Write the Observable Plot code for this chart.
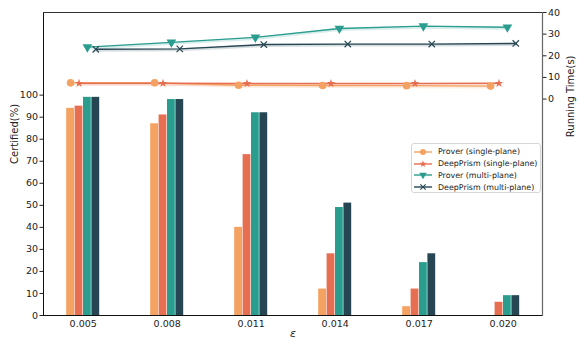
<!DOCTYPE html>
<html><head><meta charset="utf-8">
<script src="https://cdn.jsdelivr.net/npm/d3@7"></script>
<script src="https://cdn.jsdelivr.net/npm/@observablehq/plot@0.6"></script>
<style>
body{margin:0;background:#fff;font-family:"DejaVu Sans",sans-serif;}
#wrap{position:relative;width:581px;height:349px;}
#wrap svg{position:absolute;left:0;top:0;overflow:visible;}
#legend{position:absolute;left:411px;top:143px;width:130px;height:50px;border:1px solid #d6d6d6;border-radius:3px;background:rgba(255,255,255,0.8);font-size:7.9px;color:#222;box-sizing:border-box;padding:2px 0 0 1px;}
#legend .row{display:flex;align-items:center;height:11.8px;white-space:nowrap;}
#legend svg{position:static;margin-right:5px;}
</style></head>
<body><div id="wrap"><div id="p1"></div><div id="p2"></div><div id="legend"></div></div>
<script>
const epsilons = ["0.005","0.008","0.011","0.014","0.017","0.020"];
const series = ["Prover (single-plane)","DeepPrism (single-plane)","Prover (multi-plane)","DeepPrism (multi-plane)"];
const colors = ["#F4A261","#E76F51","#2A9D8F","#264653"];
const symbols = ["circle","star","triangle","times"];
const certProverSingle = [94, 87, 40, 12, 4, 0];
const certDeepPrismSingle = [95, 91, 73, 28, 12, 6];
const certProverMulti = [99, 98, 92, 49, 24, 9];
const certDeepPrismMulti = [99, 98, 92, 51, 28, 9];
const timeProverSingle = [7.5, 7.5, 6.4, 6.3, 6.2, 6.0];
const timeDeepPrismSingle = [7.3, 7.3, 7.2, 7.2, 7.2, 7.3];
const timeProverMulti = [24.0, 26.2, 28.5, 32.6, 33.7, 33.2];
const timeDeepPrismMulti = [23.0, 23.2, 25.2, 25.4, 25.4, 25.7];
const leftTicks = [0,10,20,30,40,50,60,70,80,90,100];
const rightTicks = [0,10,20,30,40];

const certs = [certProverSingle, certDeepPrismSingle, certProverMulti, certDeepPrismMulti];
const times = [timeProverSingle, timeDeepPrismSingle, timeProverMulti, timeDeepPrismMulti];
const barW = 0.1;
const bars = [], pts = [];
series.forEach((s, k) => {
  epsilons.forEach((e, i) => {
    const off = (k - 1.5) * barW;
    bars.push({s, k, x1: i + off - barW/2, x2: i + off + barW/2, v: certs[k][i]});
    pts.push({s, k, x: i + off, t: times[k][i]});
  });
});

const W = 581, H = 349;
const margins = {marginLeft: 43, marginRight: 39, marginTop: 12, marginBottom: 34};
const xdom = [-0.4726, 5.468];
const font = {fontFamily: "DejaVu Sans, sans-serif", fontSize: "9.5px"};

const p1 = Plot.plot({
  width: W, height: H, ...margins,
  style: {...font, color: "#222", background: "transparent"},
  x: {domain: xdom, ticks: d3.range(epsilons.length), tickFormat: i => epsilons[i], label: null},
  y: {domain: [0, 137.5], ticks: leftTicks, label: null},
  color: {domain: series, range: colors},
  marks: [
    Plot.rectY(bars, {x1: "x1", x2: "x2", y1: 0, y2: "v", fill: "s", insetLeft: 0.3, insetRight: 0.3}),
    Plot.axisX({ticks: d3.range(epsilons.length), tickFormat: i => epsilons[i], tickSize: 0, tickPadding: 5, label: null}),
    Plot.axisY({ticks: leftTicks, tickSize: 3.5, tickPadding: 2, label: null}),
    Plot.ruleY([0], {stroke: "#111", strokeWidth: 1}),
    Plot.frame({anchor: "left", stroke: "#111"}),
    Plot.frame({anchor: "top", stroke: "#333"}),
    Plot.text(["Certified(%)"], {frameAnchor: "left", dx: -29, rotate: -90, fontSize: 10, fill: "#222"}),
    Plot.text(["ε"], {frameAnchor: "bottom", dy: 21, fontSize: 11, fontStyle: "italic", fill: "#222"})
  ]
});
document.getElementById("p1").appendChild(p1);

const p2 = Plot.plot({
  width: W, height: H, ...margins,
  style: {...font, color: "#222", background: "transparent"},
  x: {domain: xdom, axis: null},
  y: {domain: [-100, 40], axis: null},
  color: {domain: series, range: colors},
  marks: [
    Plot.frame({anchor: "right", stroke: "#666", strokeWidth: 1.2}),
    Plot.axisY({anchor: "right", ticks: rightTicks, tickSize: 3.5, tickPadding: 2, label: null}),
    Plot.text(["Running Time(s)"], {frameAnchor: "top-right", dx: 24, dy: 43, rotate: -90, fontSize: 10, fill: "#222"}),
    Plot.line(pts, {x: "x", y: "t", z: "s", stroke: "s", strokeWidth: 3, strokeOpacity: 0.18, dy: 1}),
    Plot.line(pts, {x: "x", y: "t", z: "s", stroke: "s", strokeWidth: 1.4}),
    Plot.dot(pts.filter(d => d.k === 0), {x: "x", y: "t", r: 3.8, fill: "s", symbol: "circle"}),
    Plot.dot(pts.filter(d => d.k === 1), {x: "x", y: "t", r: 2.7, fill: "s", symbol: "star"}),
    Plot.dot(pts.filter(d => d.k === 2), {x: "x", y: "t", r: 3.6, fill: "s", symbol: "triangle", rotate: 180}),
    Plot.dot(pts.filter(d => d.k === 3), {x: "x", y: "t", r: 3.0, stroke: "s", strokeWidth: 1.2, symbol: "times"})
  ]
});
document.getElementById("p2").appendChild(p2);

// legend
const leg = document.getElementById("legend");
const symMap = {circle: d3.symbolCircle, star: d3.symbolStar, triangle: d3.symbolTriangle, times: d3.symbolTimes};
series.forEach((s, k) => {
  const row = document.createElement("div");
  row.className = "row";
  const sym = d3.symbol(symMap[symbols[k]], k === 0 ? 28 : k === 1 ? 16 : k === 3 ? 20 : 24)();
  const isStroke = k === 3;
  row.innerHTML = `<svg width="20" height="10"><line x1="1" x2="19" y1="5" y2="5" stroke="${colors[k]}" stroke-width="1.4"/>` +
    `<path d="${sym}" transform="translate(10,5)${k === 2 ? ' rotate(180)' : ''}" ${isStroke ? `fill="none" stroke="${colors[k]}" stroke-width="1.1"` : `fill="${colors[k]}"`}/></svg><span>${s}</span>`;
  leg.appendChild(row);
});
</script></body></html>
